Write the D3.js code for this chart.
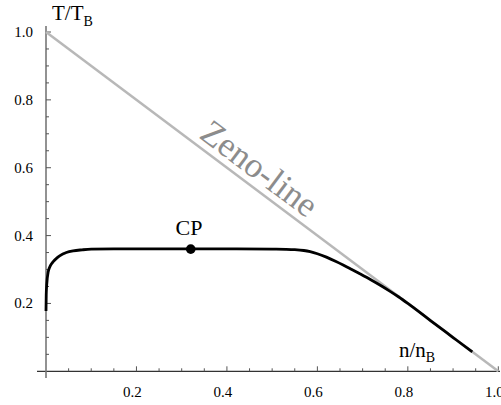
<!DOCTYPE html>
<html><head><meta charset="utf-8">
<script src="https://cdn.jsdelivr.net/npm/d3@7"></script>
<style>body{margin:0;background:#fff}svg{display:block}</style>
</head><body>
<svg id="c" width="501" height="405"></svg>
<script>
// data
const curveN = [0, 0.0005, 0.0015, 0.005, 0.01, 0.016, 0.025, 0.031, 0.045, 0.06, 0.08, 0.1, 0.15, 0.2, 0.3, 0.4, 0.5, 0.53, 0.55, 0.57, 0.584, 0.60, 0.62, 0.64, 0.657, 0.675, 0.694, 0.72, 0.74, 0.76, 0.78, 0.80, 0.85, 0.90, 0.9425];
const curveT = [0.178, 0.225, 0.254, 0.294, 0.312, 0.323, 0.335, 0.341, 0.35, 0.355, 0.358, 0.360, 0.361, 0.361, 0.361, 0.361, 0.360, 0.3595, 0.3585, 0.356, 0.3525, 0.3465, 0.3365, 0.3245, 0.3135, 0.301, 0.2875, 0.2685, 0.253, 0.2365, 0.219, 0.2, 0.1495, 0.0995, 0.057];
const zenoN = [0, 1];
const zenoT = [1, 0];
const cpN = [0.32];
const cpT = [0.36];
const xTicks = [0.2, 0.4, 0.6, 0.8, 1.0];
const yTicks = [0.2, 0.4, 0.6, 0.8, 1.0];
const minorStep = 0.05;

const svg = d3.select("#c");
const x = d3.scaleLinear().domain([0, 1]).range([46, 498.3]);
const y = d3.scaleLinear().domain([0, 1]).range([371.3, 32]);
const serif = "Liberation Serif, Times New Roman, serif";

// axes
const ax = svg.append("g").attr("stroke", "#555").attr("stroke-width", 1.3);
ax.append("line").attr("x1", 37).attr("x2", 500).attr("y1", y(0)).attr("y2", y(0)).attr("stroke", "#333");
ax.append("line").attr("x1", x(0)).attr("x2", x(0)).attr("y1", 378).attr("y2", 26).attr("stroke", "#777").attr("stroke-width", 1.6);

const minors = d3.range(1, 21).map(i => i * minorStep);
minors.forEach(v => {
  const major = Math.abs(v * 5 - Math.round(v * 5)) < 1e-6;
  ax.append("line").attr("x1", x(v)).attr("x2", x(v)).attr("y1", y(0)).attr("y2", y(0) - (major ? 5 : 3)).attr("stroke-width", 1);
  ax.append("line").attr("y1", y(v)).attr("y2", y(v)).attr("x1", x(0)).attr("x2", x(0) + (major ? 5 : 3)).attr("stroke-width", 1);
});

svg.append("g").selectAll("text").data(xTicks).join("text")
  .attr("x", d => x(d) - 4).attr("y", 397).attr("text-anchor", "middle")
  .attr("font-family", serif).attr("font-size", 15).text(d => d.toFixed(1));
svg.append("g").selectAll("text").data(yTicks).join("text")
  .attr("x", 33).attr("y", d => y(d) + 5).attr("text-anchor", "end")
  .attr("font-family", serif).attr("font-size", 15).text(d => d.toFixed(1));

// zeno line
const line = d3.line().x(d => x(d[0])).y(d => y(d[1]));
svg.append("path").datum(zenoN.map((n, i) => [n, zenoT[i]]))
  .attr("d", line).attr("fill", "none").attr("stroke", "#b8b8b8").attr("stroke-width", 2.5);

// curve
svg.append("path").datum(curveN.map((n, i) => [n, curveT[i]]))
  .attr("d", line.curve(d3.curveMonotoneX)).attr("fill", "none").attr("stroke", "#000").attr("stroke-width", 2.8);

// CP
svg.append("circle").attr("cx", x(cpN[0])).attr("cy", y(cpT[0])).attr("r", 4.8).attr("fill", "#000");
svg.append("text").attr("x", 189).attr("y", 235).attr("text-anchor", "middle")
  .attr("font-family", serif).attr("font-size", 22).text("CP");

// labels
const tl = svg.append("text").attr("x", 52).attr("y", 20).attr("font-family", serif).attr("font-size", 21);
tl.append("tspan").text("T/T");
tl.append("tspan").attr("font-size", 14).attr("dy", 6).text("B");
const nl = svg.append("text").attr("x", 399).attr("y", 357).attr("font-family", serif).attr("font-size", 21);
nl.append("tspan").text("n/n");
nl.append("tspan").attr("font-size", 14).attr("dy", 5).text("B");

const ang = Math.atan2(y(0) - y(1), x(1) - x(0)) * 180 / Math.PI;
svg.append("text").attr("transform", `translate(198,137) rotate(${ang})`)
  .attr("font-family", serif).attr("font-size", 35).attr("fill", "#8c8c8c").text("Zeno-line");
</script>
</body></html>
